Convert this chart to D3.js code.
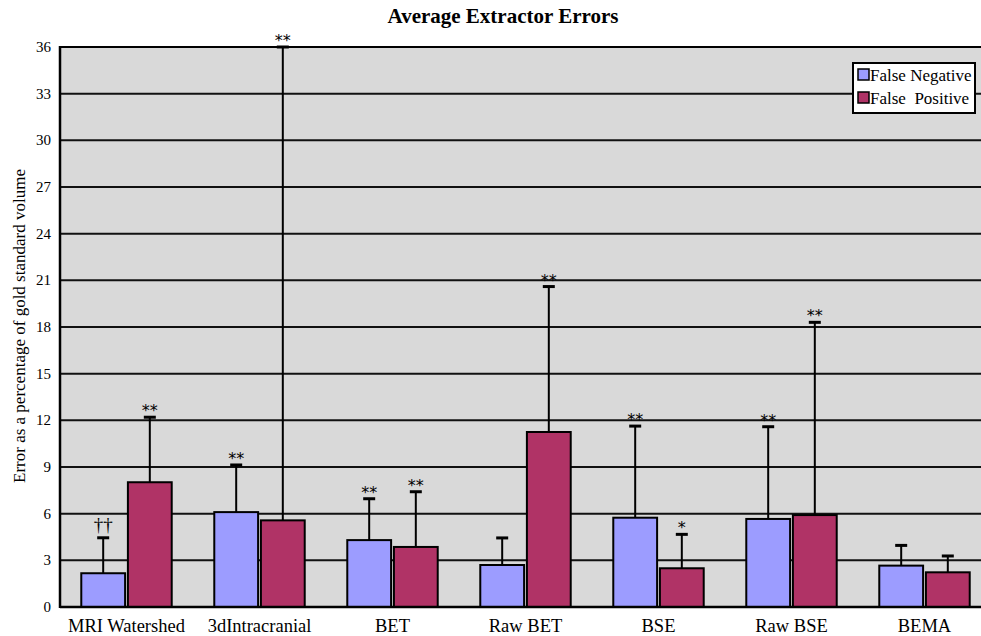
<!DOCTYPE html>
<html>
<head>
<meta charset="utf-8">
<script src="https://cdn.jsdelivr.net/npm/d3@7"></script>
<style>
  body { margin: 0; background: #fff; }
</style>
</head>
<body>
<svg class="chart" width="981" height="636"></svg>
<script>
const categories = ['MRI Watershed', '3dIntracranial', 'BET', 'Raw BET', 'BSE', 'Raw BSE', 'BEMA']
const seriesNames = ['False Negative', 'False  Positive']
const falseNeg = [2.17, 6.1, 4.3, 2.7, 5.74, 5.66, 2.66]
const falsePos = [8.02, 5.57, 3.86, 11.25, 2.49, 5.91, 2.23]
// upper end of each error bar
const falseNegErr = [4.45, 9.13, 6.96, 4.44, 11.63, 11.59, 3.96]
const falsePosErr = [12.2, 36, 7.41, 20.6, 4.67, 18.3, 3.28]
const falseNegMark = ['††', '**', '**', '', '**', '**', '']
const falsePosMark = ['**', '**', '**', '**', '*', '**', '']
const yTicks = [0, 3, 6, 9, 12, 15, 18, 21, 24, 27, 30, 33, 36]

const serif = 'Liberation Serif'
const colors = ['#9c9cff', '#b03366']
const svg = d3.select('svg.chart')
  .attr('font-family', serif)
const plotLeft = 60, plotTop = 47, plotBottom = 607
const plotRight = plotLeft + 7 * 133 // plot runs past the window edge

const x = d3.scaleBand()
  .domain(categories)
  .range([plotLeft, plotRight])
  .paddingInner(0.32)
  .paddingOuter(0.16)

const xSub = d3.scaleBand()
  .domain(seriesNames)
  .range([0, x.bandwidth()])
  .paddingInner(0.06)

const y = d3.scaleLinear()
  .domain([0, 36])
  .range([plotBottom, plotTop])

// Plot background
svg.append('rect')
  .attr('x', plotLeft)
  .attr('y', plotTop)
  .attr('width', plotRight - plotLeft)
  .attr('height', plotBottom - plotTop)
  .attr('fill', '#d9d9d9')

// Gridlines
svg.append('g')
  .selectAll('line')
  .data(yTicks.filter(d => d > 0))
  .enter()
  .append('line')
  .attr('x1', plotLeft)
  .attr('x2', plotRight)
  .attr('y1', d => y(d))
  .attr('y2', d => y(d))
  .attr('stroke', '#111')
  .attr('stroke-width', 2)

// Tick labels
svg.append('g')
  .selectAll('text')
  .data(yTicks)
  .enter()
  .append('text')
  .attr('x', 51)
  .attr('y', d => y(d) + 5)
  .attr('text-anchor', 'end')
  .attr('font-family', serif)
  .attr('font-size', 15)
  .text(d => d)

const rows = categories.map((c, i) => ({
  cat: c,
  bars: [
    {s: seriesNames[0], v: falseNeg[i], e: falseNegErr[i], m: falseNegMark[i], k: 0},
    {s: seriesNames[1], v: falsePos[i], e: falsePosErr[i], m: falsePosMark[i], k: 1}
  ]
}))

const groups = svg.append('g')
  .selectAll('g')
  .data(rows)
  .enter()
  .append('g')
  .attr('transform', d => `translate(${x(d.cat)}, 0)`)

const bars = groups.selectAll('g.bar')
  .data(d => d.bars)
  .enter()
  .append('g')
  .attr('class', 'bar')

// Error bars first so the bar sits on top of the stem
bars.append('line')
  .attr('x1', d => xSub(d.s) + xSub.bandwidth() / 2)
  .attr('x2', d => xSub(d.s) + xSub.bandwidth() / 2)
  .attr('y1', d => y(d.v))
  .attr('y2', d => y(d.e))
  .attr('stroke', '#000')
  .attr('stroke-width', 2)

bars.append('line')
  .attr('x1', d => xSub(d.s) + xSub.bandwidth() / 2 - 6)
  .attr('x2', d => xSub(d.s) + xSub.bandwidth() / 2 + 6)
  .attr('y1', d => y(d.e))
  .attr('y2', d => y(d.e))
  .attr('stroke', '#000')
  .attr('stroke-width', 3)

bars.append('rect')
  .attr('x', d => xSub(d.s))
  .attr('y', d => y(d.v))
  .attr('width', xSub.bandwidth())
  .attr('height', d => plotBottom - y(d.v))
  .attr('fill', d => colors[d.k])
  .attr('stroke', '#000')
  .attr('stroke-width', 2)

// Significance markers
bars.append('text')
  .attr('x', d => xSub(d.s) + xSub.bandwidth() / 2)
  .attr('y', d => y(d.e) - (d.m === '††' ? 7 : 1))
  .attr('text-anchor', 'middle')
  .attr('font-family', d => d.m === '††' ? serif : 'DejaVu Sans')
  .attr('font-size', d => d.m === '††' ? 19 : 16)
  .attr('fill', '#000')
  .text(d => d.m)

// Axis lines
svg.append('line')
  .attr('x1', plotLeft).attr('x2', plotLeft)
  .attr('y1', plotTop - 1).attr('y2', plotBottom + 1)
  .attr('stroke', '#000').attr('stroke-width', 2.5)
svg.append('line')
  .attr('x1', plotLeft).attr('x2', plotRight)
  .attr('y1', plotBottom).attr('y2', plotBottom)
  .attr('stroke', '#000').attr('stroke-width', 2.5)
svg.append('line')
  .attr('x1', plotLeft).attr('x2', plotRight)
  .attr('y1', plotTop).attr('y2', plotTop)
  .attr('stroke', '#000').attr('stroke-width', 2)

// Category labels
svg.append('g')
  .selectAll('text')
  .data(categories)
  .enter()
  .append('text')
  .attr('x', d => x(d) + x.bandwidth() / 2)
  .attr('y', 632)
  .attr('text-anchor', 'middle')
  .attr('font-family', serif)
  .attr('font-size', 18.5)
  .text(d => d)

// Title and axis title
svg.append('text')
  .attr('x', 503)
  .attr('y', 23)
  .attr('text-anchor', 'middle')
  .attr('font-family', serif)
  .attr('font-size', 21)
  .attr('font-weight', 'bold')
  .text('Average Extractor Errors')

svg.append('text')
  .attr('transform', 'translate(25, 326) rotate(-90)')
  .attr('text-anchor', 'middle')
  .attr('font-family', serif)
  .attr('font-size', 17)
  .text('Error as a percentage of gold standard volume')

// Legend
const legend = svg.append('g').attr('transform', 'translate(853, 63)')
legend.append('rect')
  .attr('width', 122)
  .attr('height', 50)
  .attr('fill', '#fff')
  .attr('stroke', '#000')
  .attr('stroke-width', 2)
const items = legend.selectAll('g')
  .data(seriesNames)
  .enter()
  .append('g')
  .attr('transform', (d, i) => `translate(5, ${6 + i * 23})`)
items.append('rect')
  .attr('width', 11)
  .attr('height', 11)
  .attr('fill', (d, i) => colors[i])
  .attr('stroke', '#000')
  .attr('stroke-width', 1.5)
items.append('text')
  .attr('x', 12)
  .attr('y', 12)
  .attr('font-family', serif)
  .attr('font-size', 17)
  .style('white-space', 'pre')
  .text(d => d)
</script>
</body>
</html>
